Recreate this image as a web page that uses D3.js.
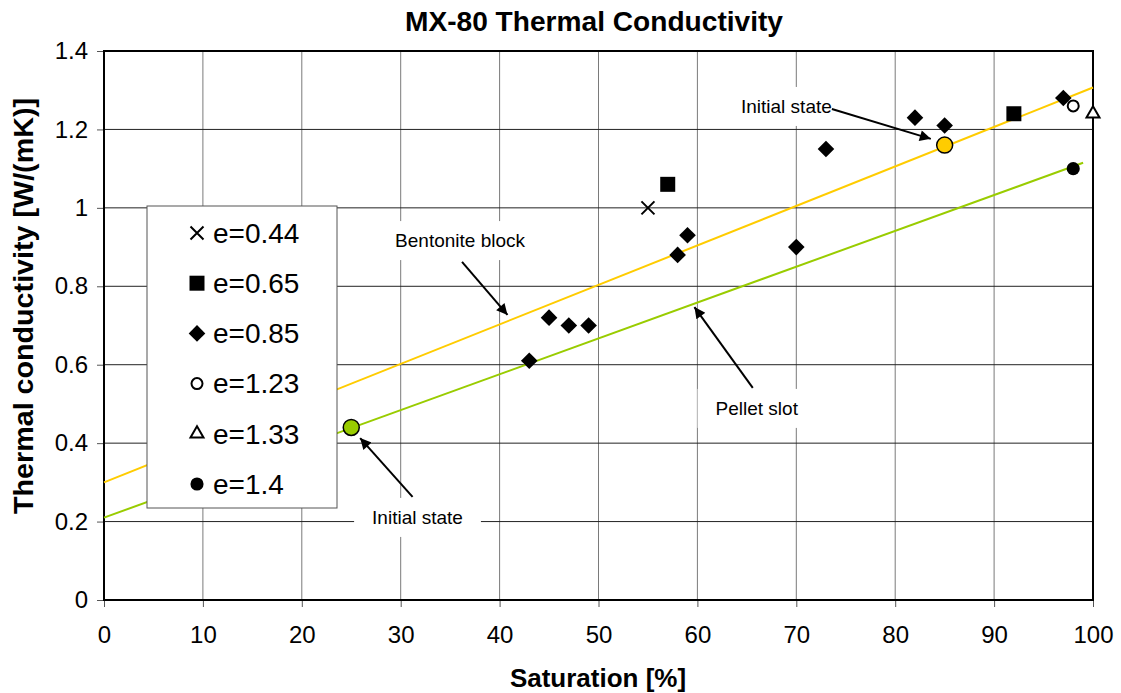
<!DOCTYPE html>
<html>
<head>
<meta charset="utf-8">
<script src="https://cdn.jsdelivr.net/npm/d3@7"></script>
<style>
  body { margin: 0; background: #fff; }
  svg text { font-family: "Liberation Sans", Arial, sans-serif; }
</style>
</head>
<body>
<div id="chart"></div>
<script>
// values: [saturation %, conductivity W/(mK)]
const e044 = [[55, 1.00]];
const e065 = [[57, 1.06], [92, 1.24]];
const e085 = [[43, 0.61], [45, 0.72], [47, 0.70], [49, 0.70], [58, 0.88], [59, 0.93],
              [70, 0.90], [73, 1.15], [82, 1.23], [85, 1.21], [97, 1.28]];
const e123 = [[98, 1.26]];
const e133 = [[100, 1.24]];
const e140 = [[98, 1.10]];
const initialStates = [[85, 1.16], [25, 0.44]];
const bentoniteLine = [[0, 0.30], [100, 1.307]];
const pelletLine = [[0, 0.21], [99, 1.115]];
const legendLabels = ["e=0.44", "e=0.65", "e=0.85", "e=1.23", "e=1.33", "e=1.4"];
const xTicks = [0, 10, 20, 30, 40, 50, 60, 70, 80, 90, 100];
const yTicks = [0, 0.2, 0.4, 0.6, 0.8, 1, 1.2, 1.4];
// annotation text anchors and arrows, in data units
const notes = [
  { text: "Bentonite block", at: [36.0, 0.90], from: [36.2, 0.862], to: [40.8, 0.727] },
  { text: "Pellet slot",     at: [66.0, 0.472], from: [65.6, 0.541], to: [59.7, 0.747] },
  { text: "Initial state",   at: [69.0, 1.242], from: [73.6, 1.252], to: [83.6, 1.176] },
  { text: "Initial state",   at: [31.7, 0.194], from: [31.2, 0.263], to: [25.9, 0.413] }
];

const W = 1121, H = 693;
const margin = { top: 51, right: 28, bottom: 93, left: 104 };

const svg = d3.select("#chart").append("svg")
    .attr("width", W)
    .attr("height", H);

const x = d3.scaleLinear().domain([0, 100]).range([margin.left, W - margin.right]);
const y = d3.scaleLinear().domain([0, 1.4]).range([H - margin.bottom, margin.top]);

// gridlines
svg.append("g").selectAll("line")
  .data(xTicks.slice(1, -1))
  .join("line")
    .attr("x1", d => x(d)).attr("x2", d => x(d))
    .attr("y1", y(0)).attr("y2", y(1.4))
    .attr("stroke", "#7a7a7a");
svg.append("g").selectAll("line")
  .data(yTicks.slice(1, -1))
  .join("line")
    .attr("x1", x(0)).attr("x2", x(100))
    .attr("y1", d => y(d)).attr("y2", d => y(d))
    .attr("stroke", "#222");

// axes
const xAxis = svg.append("g")
    .attr("transform", `translate(0,${y(0)})`)
    .call(d3.axisBottom(x).tickValues(xTicks).tickSize(7).tickPadding(19).tickFormat(d3.format("d")));
const yAxis = svg.append("g")
    .attr("transform", `translate(${x(0)},0)`)
    .call(d3.axisLeft(y).tickValues(yTicks).tickSize(7).tickPadding(9).tickFormat(d => d3.format("")(+d.toFixed(1))));
[xAxis, yAxis].forEach(a => {
  a.select(".domain").remove();
  a.selectAll(".tick line").attr("stroke", "#555");
  a.selectAll(".tick text").attr("font-size", 24).attr("fill", "#000")
    .attr("font-family", "Liberation Sans, Arial, sans-serif");
});

// plot frame
svg.append("rect")
    .attr("x", x(0)).attr("y", y(1.4))
    .attr("width", x(100) - x(0)).attr("height", y(0) - y(1.4))
    .attr("fill", "none").attr("stroke", "#000").attr("stroke-width", 2);

// white boxes behind annotation texts
const noteG = svg.append("g");
notes.forEach(n => {
  const g = noteG.append("g");
  const t = g.append("text")
      .attr("x", x(n.at[0])).attr("y", y(n.at[1]))
      .attr("text-anchor", "middle")
      .attr("font-size", 19)
      .text(n.text);
  const b = t.node().getBBox();
  g.insert("rect", "text")
      .attr("x", b.x - 18).attr("y", b.y - 9)
      .attr("width", b.width + 36).attr("height", b.height + 18)
      .attr("fill", "#fff");
});

// fitted lines
const line = d3.line().x(d => x(d[0])).y(d => y(d[1]));
svg.append("path").datum(bentoniteLine).attr("d", line)
    .attr("fill", "none").attr("stroke", "#ffcc00").attr("stroke-width", 2);
svg.append("path").datum(pelletLine).attr("d", line)
    .attr("fill", "none").attr("stroke", "#99cc00").attr("stroke-width", 2);

// marker styles per series
const series = [
  { data: e044, type: d3.symbolTimes, size: 112, fill: "none", stroke: "#000", sw: 2 },
  { data: e065, type: d3.symbolSquare, size: 225, fill: "#000", stroke: "none", sw: 0 },
  { data: e085, type: d3.symbolSquare, size: 138, fill: "#000", stroke: "none", sw: 0, rot: 45 },
  { data: e123, type: d3.symbolCircle, size: 95, fill: "#fff", stroke: "#000", sw: 2 },
  { data: e133, type: d3.symbolTriangle, size: 73, fill: "#fff", stroke: "#000", sw: 2 },
  { data: e140, type: d3.symbolCircle, size: 135, fill: "#000", stroke: "none", sw: 0 }
];

function drawMarker(sel, s) {
  sel.attr("d", d3.symbol().type(s.type).size(s.size))
     .attr("fill", s.fill).attr("stroke", s.stroke).attr("stroke-width", s.sw);
}

// arrows
svg.append("defs").append("marker")
    .attr("id", "arr").attr("viewBox", "0 0 10 10")
    .attr("refX", 10).attr("refY", 5)
    .attr("markerWidth", 7).attr("markerHeight", 5.5)
    .attr("markerUnits", "strokeWidth")
    .attr("orient", "auto")
  .append("path").attr("d", "M0,0L10,5L0,10z").attr("fill", "#000");
svg.append("g").selectAll("line")
  .data(notes)
  .join("line")
    .attr("x1", d => x(d.from[0])).attr("y1", d => y(d.from[1]))
    .attr("x2", d => x(d.to[0])).attr("y2", d => y(d.to[1]))
    .attr("stroke", "#000").attr("stroke-width", 2)
    .attr("marker-end", "url(#arr)");

// legend (sits above the fitted lines)
const lg = svg.append("g").attr("transform", "translate(147,206)");
lg.append("rect").attr("width", 190).attr("height", 302)
    .attr("fill", "#fff").attr("stroke", "#555");
series.forEach((s, i) => {
  const row = lg.append("g").attr("transform", `translate(50,${27 + i * 50.2})`);
  row.append("path").call(drawMarker, s)
      .attr("transform", s.rot ? `rotate(${s.rot})` : null);
  row.append("text").attr("x", 16).attr("dy", "0.35em")
      .attr("font-size", 28).text(legendLabels[i]);
});

// data points
series.forEach(s => {
  svg.append("g").selectAll("path")
    .data(s.data)
    .join("path")
      .call(drawMarker, s)
      .attr("transform", d => `translate(${x(d[0])},${y(d[1])})` + (s.rot ? ` rotate(${s.rot})` : ""));
});

// initial states
const stateFill = ["#ffcc00", "#99cc00"];
svg.append("g").selectAll("circle")
  .data(initialStates)
  .join("circle")
    .attr("cx", d => x(d[0])).attr("cy", d => y(d[1]))
    .attr("r", 8)
    .attr("fill", (d, i) => stateFill[i])
    .attr("stroke", "#000").attr("stroke-width", 1.5);

// titles
svg.append("text")
    .attr("x", 594).attr("y", 31)
    .attr("text-anchor", "middle")
    .attr("font-size", 27).attr("font-weight", "bold")
    .attr("textLength", 378).attr("lengthAdjust", "spacingAndGlyphs")
    .text("MX-80 Thermal Conductivity");
svg.append("text")
    .attr("x", 598).attr("y", 687)
    .attr("text-anchor", "middle")
    .attr("font-size", 26).attr("font-weight", "bold")
    .text("Saturation [%]");
svg.append("text")
    .attr("transform", "translate(33,306) rotate(-90)")
    .attr("text-anchor", "middle")
    .attr("font-size", 27).attr("font-weight", "bold")
    .attr("textLength", 416).attr("lengthAdjust", "spacingAndGlyphs")
    .text("Thermal conductivity [W/(mK)]");
</script>
</body>
</html>
